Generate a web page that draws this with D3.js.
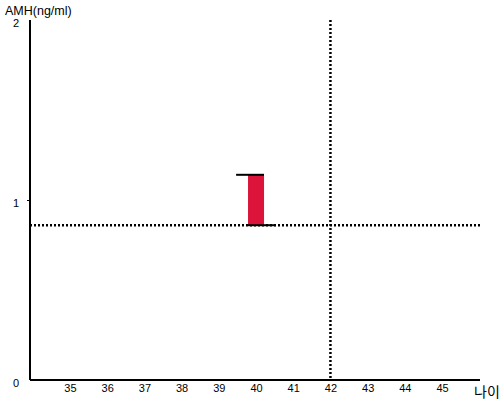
<!DOCTYPE html>
<html><head><meta charset="utf-8">
<script src="https://cdn.jsdelivr.net/npm/d3@7"></script>
<style>body{margin:0;background:#fff}svg{display:block}</style>
</head><body>
<svg id="c" width="500" height="400"></svg>
<script>
const xTicks = [35,36,37,38,39,40,41,42,43,44,45];
const yTicks = [0,1,2];
const barAge = [40];
const barLow = [0.86];
const barHigh = [1.14];
const refAge = [42];
const refAmh = [0.86];
const xLabel = "나이";
const yLabel = "AMH(ng/ml)";

const svg = d3.select("#c");
const x = d3.scaleLinear().domain([33.925, 46.02]).range([30, 480]);
const y = d3.scaleLinear().domain([0, 2]).range([380, 20]);
const font = "Liberation Sans, Arial, sans-serif";

// x axis
const xa = svg.append("g").attr("transform","translate(0,380)")
  .call(d3.axisBottom(x).tickValues(xTicks).tickSize(0).tickPadding(4).tickFormat(d3.format("d")));
xa.select(".domain").attr("stroke","#000").attr("stroke-width",2).attr("d","M30,0H480");
xa.selectAll("text").attr("font-family",font).attr("font-size",11).attr("fill","#000");

// y axis
const ya = svg.append("g").attr("transform","translate(30,0)")
  .call(d3.axisLeft(y).tickValues(yTicks).tickSize(3).tickPadding(8).tickFormat(d3.format("d")));
ya.select(".domain").attr("stroke","#000").attr("stroke-width",2).attr("d","M0,20V380");
ya.selectAll(".tick line").attr("stroke","#000");
ya.selectAll("text").attr("font-family",font).attr("font-size",11).attr("fill","#000").attr("dy","0.55em");
ya.selectAll(".tick").filter(d=>d!==1).select("line").remove();

// reference lines
svg.selectAll(".hline").data(refAmh).enter().append("line")
  .attr("x1",30).attr("x2",480).attr("y1",d=>y(d)).attr("y2",d=>y(d))
  .attr("stroke","#000").attr("stroke-width",2.5).attr("stroke-dasharray","2,2");
svg.selectAll(".vline").data(refAge).enter().append("line")
  .attr("x1",d=>x(d)).attr("x2",d=>x(d)).attr("y1",20).attr("y2",380)
  .attr("stroke","#000").attr("stroke-width",2.5).attr("stroke-dasharray","2,2");

// bar
const hw = 0.215;
barAge.forEach((a,i)=>{
  svg.append("rect").attr("x",x(a-hw)).attr("width",x(a+hw)-x(a-hw))
    .attr("y",y(barHigh[i])).attr("height",y(barLow[i])-y(barHigh[i]))
    .attr("fill","#dc143c");
  svg.append("line").attr("x1",x(a-hw-0.32)).attr("x2",x(a+hw))
    .attr("y1",y(barHigh[i])).attr("y2",y(barHigh[i])).attr("stroke","#000").attr("stroke-width",2);
  svg.append("line").attr("x1",x(a-hw)).attr("x2",x(a+hw+0.32))
    .attr("y1",y(barLow[i])).attr("y2",y(barLow[i])).attr("stroke","#000").attr("stroke-width",2);
});

// labels
svg.append("text").attr("x",5).attr("y",15).attr("font-family",font).attr("font-size",12.5).text(yLabel);
svg.append("text").attr("x",474).attr("y",397).attr("font-family","Noto Sans CJK KR, sans-serif").attr("font-size",14).text(xLabel);
</script>
</body></html>
